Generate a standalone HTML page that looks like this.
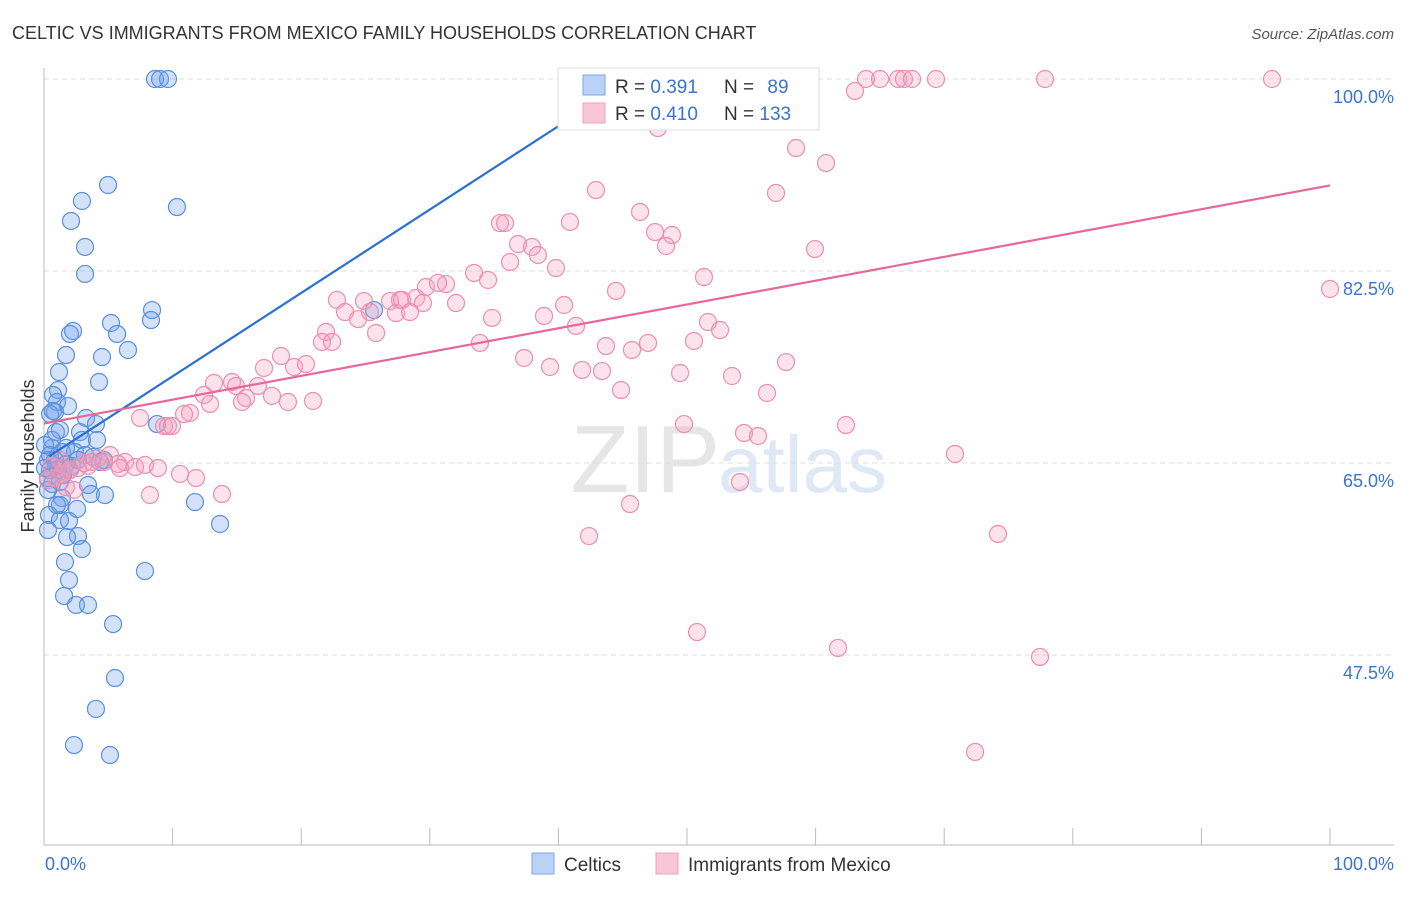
<!DOCTYPE html>
<html><head><meta charset="utf-8"><style>
body{margin:0;background:#fff;font-family:"Liberation Sans",sans-serif}
svg text{font-family:"Liberation Sans",sans-serif}
</style></head><body>
<svg id="c" width="1406" height="892" xmlns="http://www.w3.org/2000/svg">
<text x="12" y="39" font-size="18" fill="#333">CELTIC VS IMMIGRANTS FROM MEXICO FAMILY HOUSEHOLDS CORRELATION CHART</text>
<text x="1394" y="39" font-size="15" fill="#555" font-style="italic" text-anchor="end">Source: ZipAtlas.com</text>
<text x="720" y="492" font-size="96" fill="#e6e6e6" font-family="Liberation Serif" text-anchor="end">ZIP</text>
<text x="718" y="492" font-size="80" fill="#dfe9f6">atlas</text>
<g id="grid"></g><g id="axes"></g><g id="pts"></g><g id="lines"></g>
<text transform="translate(34,456) rotate(-90)" font-size="18" fill="#333" text-anchor="middle">Family Households</text>
<text x="45" y="870" font-size="18" fill="#3b73d1">0.0%</text>
<text x="1394" y="870" font-size="18" fill="#3b73d1" text-anchor="end">100.0%</text>
<g>
<rect x="558" y="68" width="261" height="62" fill="#fff" stroke="#ddd"/>
<rect x="583" y="75" width="22" height="20" fill="#b9d2f5" stroke="#7ea6e3"/>
<rect x="583" y="103" width="22" height="20" fill="#f9c6d6" stroke="#eea0b9"/>
<text x="615" y="93" font-size="19" fill="#333">R = <tspan fill="#3b73d1">0.391</tspan></text>
<text x="724" y="93" font-size="19" fill="#333">N = <tspan fill="#3b73d1" dx="8">89</tspan></text>
<text x="615" y="120" font-size="19" fill="#333">R = <tspan fill="#3b73d1">0.410</tspan></text>
<text x="724" y="120" font-size="19" fill="#333">N = <tspan fill="#3b73d1">133</tspan></text>
</g>
<g>
<rect x="532" y="853" width="22" height="21" fill="#b9d2f5" stroke="#7ea6e3"/>
<text x="564" y="871" font-size="19" fill="#333">Celtics</text>
<rect x="656" y="853" width="22" height="21" fill="#f9c6d6" stroke="#eea0b9"/>
<text x="688" y="871" font-size="19" fill="#333">Immigrants from Mexico</text>
</g>
</svg>
<script>
const yTicks=[100,82.5,65,47.5];
const yTickLabels=["100.0%","82.5%","65.0%","47.5%"];
const blueLine=[65.3,0.76,0.4,45.5];
const pinkLine=[68.6,0.217,0,100];
const bluePx=[[155,79],[160,79],[168,79],[108,185],[82,201],[177,207],[71,221],[85,247],[85,274],[152,310],[151,320],[111,323],[73,331],[70,334],[117,334],[128,350],[66,355],[102,357],[99,382],[59,372],[58,390],[57,402],[68,406],[55,412],[50,414],[53,411],[86,418],[56,432],[60,430],[96,424],[157,424],[374,310],[80,432],[82,440],[97,440],[52,448],[62,452],[75,452],[85,455],[93,457],[104,460],[48,460],[56,466],[66,464],[72,466],[50,470],[48,478],[52,484],[88,485],[91,494],[105,495],[62,498],[60,505],[77,509],[49,515],[60,520],[69,521],[78,536],[67,537],[82,549],[65,562],[69,580],[145,571],[195,502],[220,524],[64,596],[76,605],[88,605],[113,624],[115,678],[96,709],[74,745],[110,755],[48,490],[50,455],[55,460],[58,470],[45,468],[63,475],[70,470],[52,440],[45,445],[60,482],[100,462],[66,448],[53,395],[57,505],[48,530],[78,460]];
const pinkPx=[[800,79],[866,79],[880,79],[898,79],[904,79],[912,79],[936,79],[1045,79],[1272,79],[760,79],[688,81],[855,91],[658,128],[796,148],[826,163],[596,190],[776,193],[640,212],[500,223],[505,223],[570,222],[655,232],[672,235],[518,244],[532,247],[666,246],[538,255],[510,262],[556,268],[704,277],[815,249],[474,273],[446,284],[426,287],[438,283],[456,303],[416,298],[400,300],[390,301],[402,300],[423,303],[488,280],[337,300],[364,301],[345,312],[358,319],[370,312],[396,313],[410,312],[616,291],[564,305],[492,318],[544,316],[576,326],[326,332],[322,342],[332,342],[376,333],[480,343],[606,346],[524,358],[550,367],[582,370],[602,371],[632,350],[648,343],[694,341],[708,322],[720,330],[786,362],[732,376],[680,373],[621,390],[767,393],[281,356],[264,368],[294,367],[306,364],[232,382],[236,386],[214,383],[258,386],[204,395],[246,398],[272,396],[288,402],[313,401],[210,404],[242,402],[190,413],[184,414],[164,426],[168,426],[172,426],[140,418],[684,424],[744,433],[758,436],[846,425],[955,454],[740,482],[630,504],[589,536],[998,534],[697,632],[838,648],[1040,657],[975,752],[1330,289],[110,455],[125,462],[135,467],[145,465],[158,468],[180,474],[196,478],[150,495],[222,494],[98,458],[104,462],[118,464],[88,466],[78,468],[70,470],[62,474],[56,478],[52,466],[60,460],[66,487],[74,490],[84,463],[92,462],[64,468],[48,480],[120,468]];
// convert the read pixel estimates into data values (percent x, percent y)
const celticX=bluePx.map(p=>+((p[0]-44)/12.86).toFixed(2));
const celticY=bluePx.map(p=>+(100-(p[1]-79)/10.971).toFixed(2));
const mexicoX=pinkPx.map(p=>+((p[0]-44)/12.86).toFixed(2));
const mexicoY=pinkPx.map(p=>+(100-(p[1]-79)/10.971).toFixed(2));
const X=v=>44+v*12.86, Y=v=>79+(100-v)*10.971;
const NS="http://www.w3.org/2000/svg";
function mk(parent,tag,attrs){const e=document.createElementNS(NS,tag);for(const k in attrs)e.setAttribute(k,attrs[k]);parent.appendChild(e);return e;}
const grid=document.getElementById('grid'),axes=document.getElementById('axes'),pts=document.getElementById('pts'),lines=document.getElementById('lines');
yTicks.forEach((t,i)=>{
 const l=mk(grid,'line',{x1:44,x2:1394,y1:Y(t),y2:Y(t),stroke:'#ddd','stroke-dasharray':'5,4'});
 
 
 const tx=mk(grid,'text',{x:1394,y:Y(t)+24,'font-size':18,fill:'#3b73d1','text-anchor':'end'});
 tx.textContent=yTickLabels[i];
 
 
});
const ax=mk(axes,'line',{x1:44,x2:44,y1:68,y2:845,stroke:'#bbb'});


const bx=mk(axes,'line',{x1:44,x2:1394,y1:845,y2:845,stroke:'#bbb'});


for(let i=0;i<=10;i++){const t=mk(axes,'line',{x1:X(i*10),x2:X(i*10),y1:828,y2:845,stroke:'#bbb'});
 
 }
celticX.forEach((x,i)=>{const c=mk(pts,'circle',{cx:X(x),cy:Y(celticY[i]),r:8.5,fill:'rgba(110,160,235,0.3)',stroke:'#5a8fdc','stroke-width':1.2});
 
 });
mexicoX.forEach((x,i)=>{const c=mk(pts,'circle',{cx:X(x),cy:Y(mexicoY[i]),r:8.5,fill:'rgba(245,160,190,0.3)',stroke:'#eb8fb0','stroke-width':1.2});
 
 });
const bl=mk(lines,'line',{x1:X(blueLine[2]),y1:Y(blueLine[0]+blueLine[1]*blueLine[2]),x2:X(blueLine[3]),y2:Y(blueLine[0]+blueLine[1]*blueLine[3]),stroke:'#2a6fd6','stroke-width':2.2});


const pl=mk(lines,'line',{x1:X(pinkLine[2]),y1:Y(pinkLine[0]+pinkLine[1]*pinkLine[2]),x2:X(pinkLine[3]),y2:Y(pinkLine[0]+pinkLine[1]*pinkLine[3]),stroke:'#e8679a','stroke-width':2.2});


</script>
</body></html>
